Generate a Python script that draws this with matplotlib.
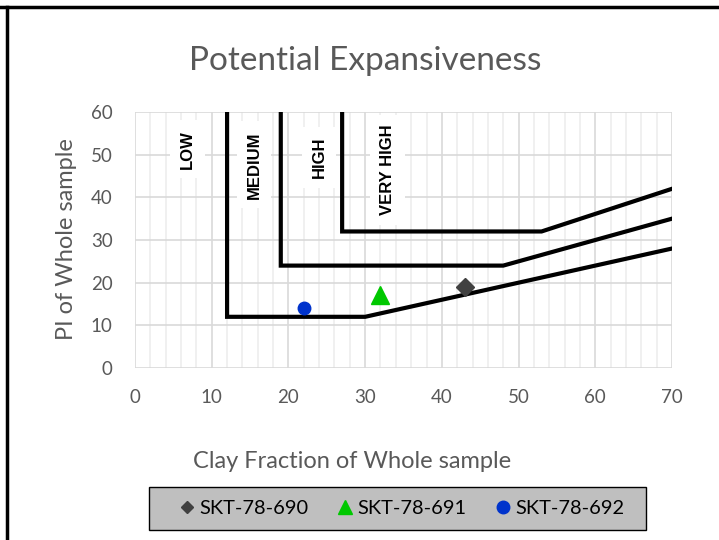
import matplotlib.pyplot as plt
from matplotlib.lines import Line2D
from matplotlib.patches import Rectangle
from matplotlib.ticker import MultipleLocator

plt.rcParams['font.family'] = ['Lato', 'DejaVu Sans']

# zone boundaries (clay fraction, PI)
low_med_x = [12, 12, 30, 70]
low_med_y = [60, 12, 12, 28]
med_high_x = [19, 19, 48, 70]
med_high_y = [60, 24, 24, 35]
high_vhigh_x = [27, 27, 53, 70]
high_vhigh_y = [60, 32, 32, 42]

zone_names = ['LOW', 'MEDIUM', 'HIGH', 'VERY HIGH']
zone_x = [6.85, 15.5, 24.0, 32.9]
zone_y = [51.3, 47.6, 49.3, 46.4]

samples = ['SKT-78-690', 'SKT-78-691', 'SKT-78-692']
clay = [43, 32, 22]
pi = [19, 17, 14]
markers = ['D', '^', 'o']
colors = ['#404040', '#00c800', '#0033cc']
sizes = [9.2, 13, 9]
legend_sizes = [6.5, 10, 9]

gray = '#595959'

fig = plt.figure(figsize=(7.19, 5.40), dpi=100)
ax = fig.add_axes([0.1878, 0.3185, 0.7468, 0.4741])

for xs, ys in [(low_med_x, low_med_y), (med_high_x, med_high_y), (high_vhigh_x, high_vhigh_y)]:
    ax.plot(xs, ys, color='black', lw=3, solid_joinstyle='miter', zorder=3)

for name, x, y in zip(zone_names, zone_x, zone_y):
    ax.text(x, y, name, rotation=90, ha='center', va='center', fontsize=12,
            fontweight='bold', family=['Liberation Sans Narrow', 'Liberation Sans'],
            bbox=dict(facecolor='white', edgecolor='none', pad=7), zorder=2)

handles = []
for name, x, y, m, c, s, ls in zip(samples, clay, pi, markers, colors, sizes, legend_sizes):
    ax.plot([x], [y], linestyle='none', marker=m, color=c, markersize=s, zorder=4)
    handles.append(Line2D([], [], linestyle='none', marker=m, color=c, markersize=ls, label=name))

ax.set_xlim(0, 70)
ax.set_ylim(0, 60)
ax.xaxis.set_major_locator(MultipleLocator(10))
ax.xaxis.set_minor_locator(MultipleLocator(2))
ax.yaxis.set_major_locator(MultipleLocator(10))
ax.grid(which='major', color='#d9d9d9', lw=1.2, zorder=0)
ax.grid(which='minor', axis='x', color='#eeeeee', lw=1.2, zorder=0)
ax.set_axisbelow(True)
for sp in ax.spines.values():
    sp.set_visible(False)
ax.tick_params(which='both', length=0, labelsize=13.5, labelcolor=gray)
ax.tick_params(axis='y', pad=16)
ax.tick_params(axis='x', pad=15)

fig.text(0.508, 0.887, 'Potential Expansiveness', ha='center', va='center', fontsize=24, color=gray)
fig.text(0.490, 0.146, 'Clay Fraction of Whole sample', ha='center', va='center', fontsize=17, color=gray)
fig.text(0.092, 0.557, 'PI of Whole sample', ha='center', va='center', rotation=90, fontsize=17, color=gray)

# legend box
fig.add_artist(Rectangle((149 / 719, 1 - 530 / 540), 497 / 719, 43 / 540, transform=fig.transFigure,
                         facecolor='#bfbfbf', edgecolor='black', lw=1.0, zorder=1))
leg = fig.legend(handles=handles, loc='center', bbox_to_anchor=(0.559, 0.058), ncol=3,
                 frameon=False, fontsize=14.4, handlelength=0.8, handletextpad=0.2,
                 columnspacing=1.45, borderpad=0.55, borderaxespad=0)
leg.set_zorder(2)
for t in leg.get_texts():
    t.set_color('black')

# outer chart border
fig.add_artist(Line2D([0, 1], [1 - 7 / 540] * 2, transform=fig.transFigure, color='black', lw=2.5))
fig.add_artist(Line2D([7 / 719] * 2, [0, 1 - 7 / 540], transform=fig.transFigure, color='black', lw=2.5))

fig.savefig('out.png', dpi=100)
